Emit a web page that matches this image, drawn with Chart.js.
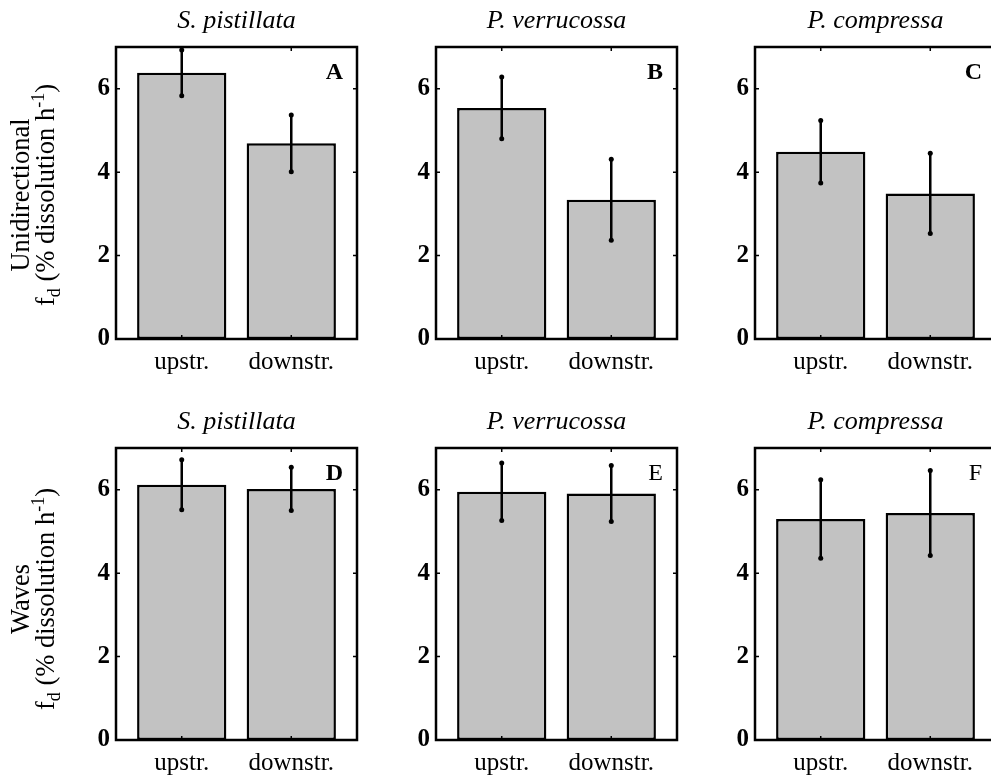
<!DOCTYPE html>
<html><head><meta charset="utf-8">
<script src="https://cdn.jsdelivr.net/npm/chart.js@4.4.1/dist/chart.umd.min.js"></script>
<style>
html,body{margin:0;padding:0;background:#fff;overflow:hidden;}
#fig{position:relative;width:991px;height:780px;overflow:hidden;background:#fff;}
#fig canvas{position:absolute;}
.ylab{position:absolute;width:320px;height:50px;font-family:"Liberation Serif","Times New Roman",serif;font-size:26.5px;line-height:25px;text-align:center;color:#000;transform:rotate(-90deg);white-space:nowrap;}
.ylab sub,.ylab sup{font-size:18px;line-height:0;}
</style></head><body><div id="fig"></div>
<script>
// ---- data ----
const categories = ['upstr.', 'downstr.'];
const xPositions = [1, 2];
const species = ['S. pistillata', 'P. verrucossa', 'P. compressa'];
const panelLetters = [['A', 'B', 'C'], ['D', 'E', 'F']];
const yTicks = [0, 2, 4, 6];
const unidirectionalMeans = [[6.38, 4.69], [5.54, 3.34], [4.49, 3.49]];
const unidirectionalErrors = [[0.55, 0.68], [0.74, 0.97], [0.75, 0.96]];
const wavesMeans = [[6.12, 6.02], [5.95, 5.91], [5.30, 5.44]];
const wavesErrors = [[0.60, 0.52], [0.69, 0.67], [0.94, 1.02]];
const rowLabels = ['Unidirectional', 'Waves'];

// ---- layout / style ----
const FONT = '"Liberation Serif","Times New Roman",serif';
const PLOT_W = 241, PLOT_H = 292, YAX_W = 60, XAX_H = 40, TITLE_FS = 26, TITLE_PAD = 13, PAD_R = 5;
const TITLE_H = TITLE_FS + TITLE_PAD;
const panelLeft = [116, 436, 755];
const panelTop = [47, 448];
const letterBold = [[true, true, true], [true, false, false]];

const deco = {
  id: 'panelDeco',
  afterDatasetsDraw(chart, args, opts) {
    const {ctx, chartArea: a, scales: {x, y}} = chart;
    ctx.save();
    ctx.strokeStyle = '#000'; ctx.fillStyle = '#000';
    const meta = chart.getDatasetMeta(0);
    meta.data.forEach((bar, i) => {
      const m = chart.data.datasets[0].data[i].y;
      const e = opts.errors[i];
      const yt = y.getPixelForValue(m + e), yb = y.getPixelForValue(m - e);
      ctx.lineWidth = 2.5;
      ctx.beginPath(); ctx.moveTo(bar.x, yt); ctx.lineTo(bar.x, yb); ctx.stroke();
      [yt, yb].forEach(yy => { ctx.beginPath(); ctx.arc(bar.x, yy, 2.5, 0, Math.PI * 2); ctx.fill(); });
    });
    ctx.lineWidth = 2.5;
    ctx.strokeRect(a.left, a.top, a.right - a.left, a.bottom - a.top);
    const tl = 4;
    ctx.lineWidth = 1.5;
    ctx.beginPath();
    y.ticks.forEach(t => {
      const py = y.getPixelForValue(t.value);
      ctx.moveTo(a.left, py); ctx.lineTo(a.left + tl, py);
      ctx.moveTo(a.right, py); ctx.lineTo(a.right - tl, py);
    });
    x.ticks.forEach(t => {
      const px = x.getPixelForValue(t.value);
      ctx.moveTo(px, a.top); ctx.lineTo(px, a.top + tl);
      ctx.moveTo(px, a.bottom); ctx.lineTo(px, a.bottom - tl);
    });
    ctx.stroke();
    ctx.font = (opts.bold ? 'bold ' : '') + '24px ' + FONT;
    ctx.textAlign = 'right'; ctx.textBaseline = 'top';
    ctx.fillText(opts.letter, a.right - 14, a.top + 14);
    ctx.restore();
  }
};

const fig = document.getElementById('fig');

function makePanel(row, col) {
  const means = row === 0 ? unidirectionalMeans[col] : wavesMeans[col];
  const errs = row === 0 ? unidirectionalErrors[col] : wavesErrors[col];
  const c = document.createElement('canvas');
  const w = YAX_W + PLOT_W + PAD_R, h = TITLE_H + PLOT_H + XAX_H;
  c.width = w; c.height = h;
  c.style.width = w + 'px'; c.style.height = h + 'px';
  c.style.left = (panelLeft[col] - YAX_W) + 'px';
  c.style.top = (panelTop[row] - TITLE_H) + 'px';
  fig.appendChild(c);
  new Chart(c, {
    type: 'bar',
    data: {
      datasets: [{
        data: means.map((v, i) => ({x: xPositions[i], y: v})),
        backgroundColor: '#c2c2c2', borderColor: '#000', borderWidth: 2.5, borderSkipped: false,
        barPercentage: 0.815, categoryPercentage: 1
      }]
    },
    options: {
      responsive: false, animation: false, devicePixelRatio: 1,
      layout: {padding: {left: 0, right: PAD_R, top: 0, bottom: 0}},
      plugins: {
        legend: {display: false}, tooltip: {enabled: false},
        title: {display: true, fullSize: false, text: species[col], color: '#000',
          font: {family: FONT, size: TITLE_FS, style: 'italic', weight: 'normal', lineHeight: 1},
          padding: {top: 0, bottom: TITLE_PAD}},
        panelDeco: {letter: panelLetters[row][col], errors: errs, bold: letterBold[row][col]}
      },
      scales: {
        x: {
          type: 'linear', min: 0.4, max: 2.6, offset: false,
          afterBuildTicks: s => { s.ticks = xPositions.map(v => ({value: v})); },
          afterFit: s => { s.height = XAX_H; },
          grid: {display: false, drawTicks: false, offset: false}, border: {display: false},
          ticks: {padding: 8, color: '#000', autoSkip: false, maxRotation: 0,
            font: {family: FONT, size: 25, lineHeight: 1.2},
            callback: (v, i) => categories[i]}
        },
        y: {
          min: 0, max: 7,
          afterBuildTicks: s => { s.ticks = yTicks.map(v => ({value: v})); },
          afterFit: s => { s.width = YAX_W; },
          grid: {display: false, drawTicks: false}, border: {display: false},
          ticks: {padding: 6, color: '#000', font: {family: FONT, size: 25, weight: 'bold'}}
        }
      }
    },
    plugins: [deco]
  });
}

for (let r = 0; r < 2; r++) for (let c = 0; c < 3; c++) makePanel(r, c);

// y-axis labels
[[0, 195], [1, 599]].forEach(([r, cy]) => {
  const d = document.createElement('div');
  d.className = 'ylab';
  d.style.left = (33 - 160) + 'px';
  d.style.top = (cy - 25) + 'px';
  d.innerHTML = '<div>' + rowLabels[r] + '</div><div>f<sub>d</sub> (% dissolution h<sup>-1</sup>)</div>';
  fig.appendChild(d);
});
</script></body></html>
